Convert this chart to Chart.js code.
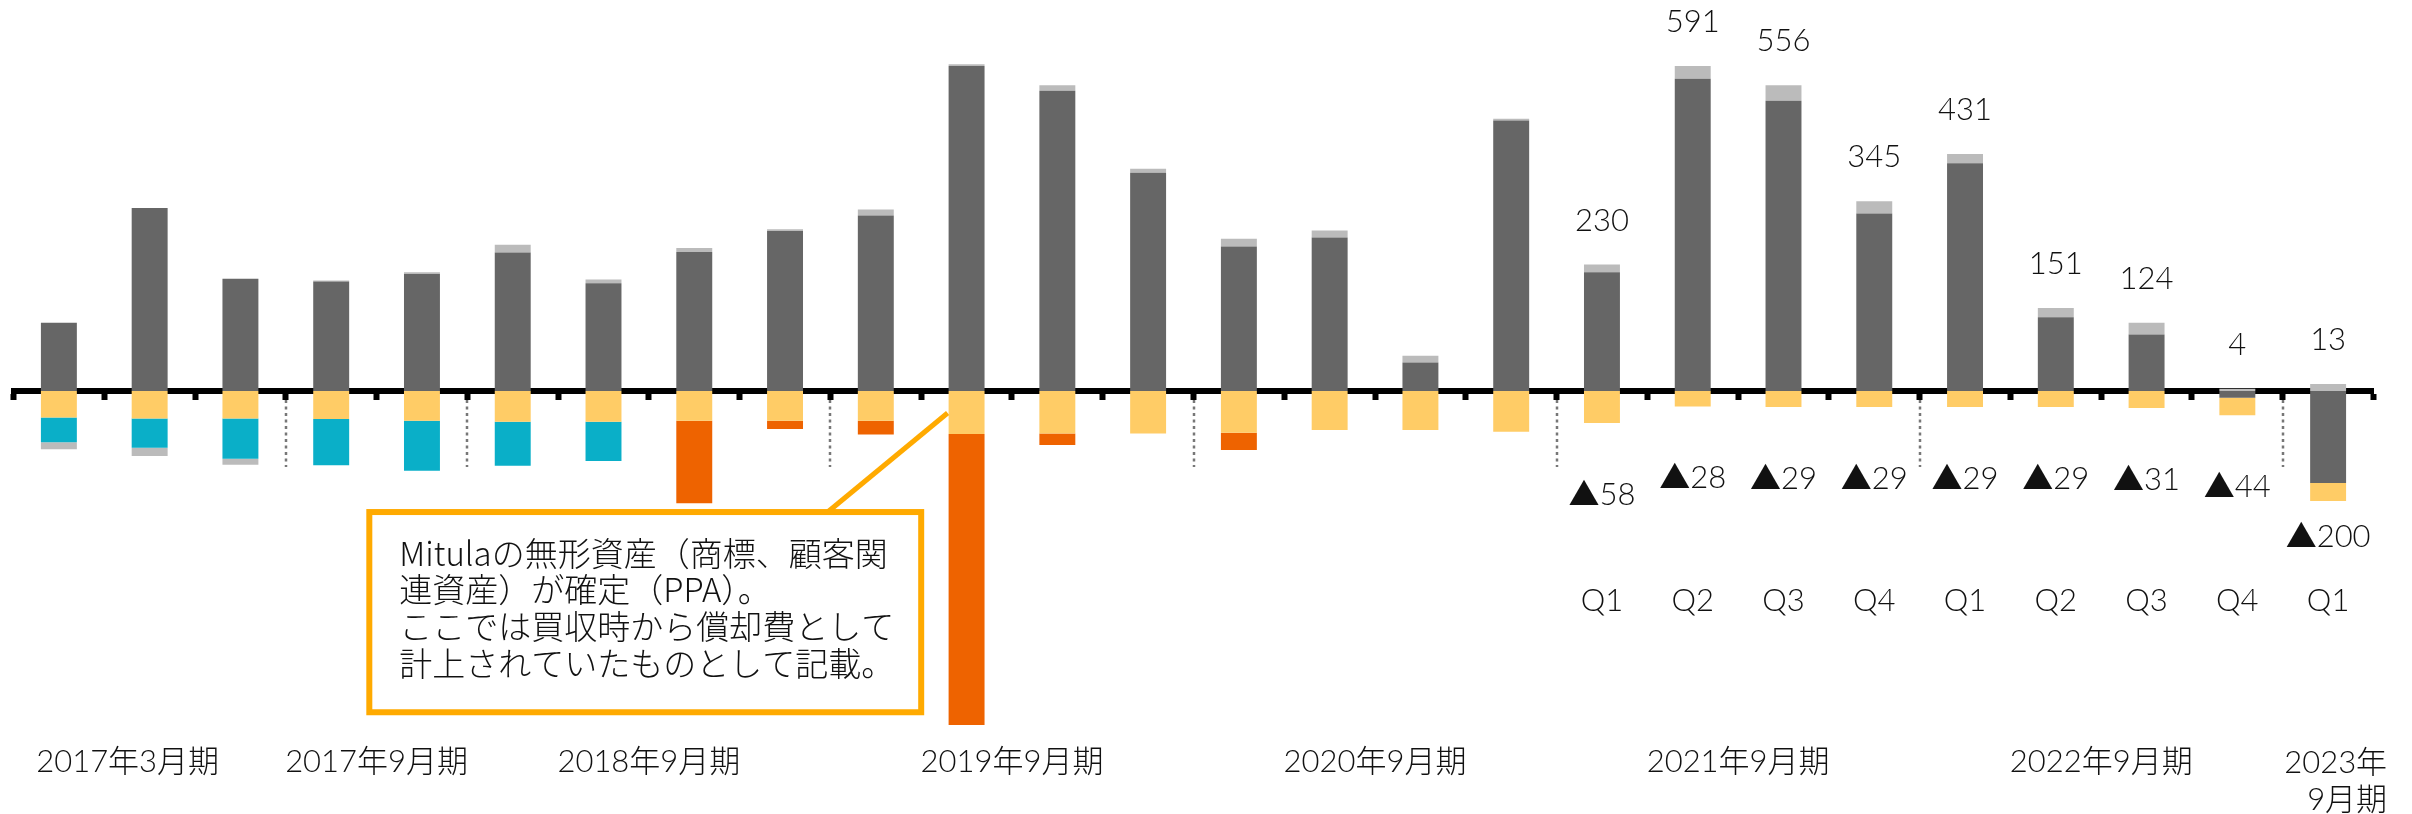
<!DOCTYPE html>
<html lang="ja">
<head>
<meta charset="utf-8">
<script src="https://cdn.jsdelivr.net/npm/chart.js@4.4.1/dist/chart.umd.min.js"></script>
<style>
html, body { margin: 0; padding: 0; background: #fff; }
#wrap { width: 2412px; height: 814px; position: relative; }
</style>
</head>
<body>
<div id="wrap"><canvas id="chart"></canvas></div>
<script>
// quarters, oldest first
const categories = [
    '2017/3 Q2', '2017/3 Q3', '2017/3 Q4',
    '2017/9 Q1', '2017/9 Q2',
    '2018/9 Q1', '2018/9 Q2', '2018/9 Q3', '2018/9 Q4',
    '2019/9 Q1', '2019/9 Q2', '2019/9 Q3', '2019/9 Q4',
    '2020/9 Q1', '2020/9 Q2', '2020/9 Q3', '2020/9 Q4',
    '2021/9 Q1', '2021/9 Q2', '2021/9 Q3', '2021/9 Q4',
    '2022/9 Q1', '2022/9 Q2', '2022/9 Q3', '2022/9 Q4',
    '2023/9 Q1'
];

const profit     = [124, 333, 204, 199, 213, 252, 196, 253, 291, 319, 591, 546, 397, 263, 279, 52, 492, 216, 568, 528, 323, 414, 134, 103, -12, -167];
const otherPlus  = [0, 0, 0, 2, 3, 14, 7, 7, 3, 11, 3, 10, 7, 14, 13, 12, 3, 14, 23, 28, 22, 17, 17, 21, 4, 13];
const amort      = [-48, -50, -50, -51, -54, -56, -56, -54, -54, -54, -78, -77, -77, -76, -71, -71, -74, -58, -28, -29, -29, -29, -29, -31, -32, -33];
const oldAmort   = [-45, -53, -73, -84, -91, -80, -71, 0, 0, 0, 0, 0, 0, 0, 0, 0, 0, 0, 0, 0, 0, 0, 0, 0, 0, 0];
const mitula     = [0, 0, 0, 0, 0, 0, 0, -150, -15, -25, -529, -21, 0, -31, 0, 0, 0, 0, 0, 0, 0, 0, 0, 0, 0, 0];
const otherMinus = [-13, -15, -11, 0, 0, 0, 0, 0, 0, 0, 0, 0, 0, 0, 0, 0, 0, 0, 0, 0, 0, 0, 0, 0, 0, 0];

const topLabels    = ['', '', '', '', '', '', '', '', '', '', '', '', '', '', '', '', '', '230', '591', '556', '345', '431', '151', '124', '4', '13'];
const bottomLabels = ['', '', '', '', '', '', '', '', '', '', '', '', '', '', '', '', '', '▲58', '▲28', '▲29', '▲29', '▲29', '▲29', '▲31', '▲44', '▲200'];
const quarterLabels = ['', '', '', '', '', '', '', '', '', '', '', '', '', '', '', '', '', 'Q1', 'Q2', 'Q3', 'Q4', 'Q1', 'Q2', 'Q3', 'Q4', 'Q1'];

const periodLabels = ['2017年3月期', '2017年9月期', '2018年9月期', '2019年9月期', '2020年9月期', '2021年9月期', '2022年9月期', '2023年\n9月期'];
const periodSizes  = [3, 2, 4, 4, 4, 4, 4, 1];

const noteLines = [
    'Mitulaの無形資産（商標、顧客関',
    '連資産）が確定（PPA）。',
    'ここでは買収時から償却費として',
    '計上されていたものとして記載。'
];

const FONT = 'Lato, "Noto Sans CJK JP", sans-serif';
const JFONT = '"Noto Sans CJK JP", sans-serif';

const overlay = {
    id: 'overlay',
    afterDraw(chart) {
        const { ctx, scales: { x, y } } = chart;
        const zero = y.getPixelForValue(0);
        const step = x.getPixelForValue(1) - x.getPixelForValue(0);
        ctx.save();

        // dotted separators between fiscal periods
        ctx.strokeStyle = '#777';
        ctx.lineWidth = 2.5;
        ctx.setLineDash([3, 3.5]);
        let idx = 0;
        periodSizes.slice(0, -1).forEach(n => {
            idx += n;
            const px = Math.round(x.getPixelForValue(idx) - step / 2);
            ctx.beginPath();
            ctx.moveTo(px, zero + 9);
            ctx.lineTo(px, zero + 76);
            ctx.stroke();
        });
        ctx.setLineDash([]);

        ctx.fillStyle = '#111';
        ctx.textAlign = 'center';
        ctx.textBaseline = 'middle';
        ctx.font = '300 31px ' + FONT;

        categories.forEach((_, i) => {
            const cx = x.getPixelForValue(i);
            let pos = 0, neg = 0;
            [profit, otherPlus, amort, oldAmort, mitula, otherMinus].forEach(s => {
                if (s[i] > 0) pos += s[i]; else neg += s[i];
            });
            if (topLabels[i]) {
                ctx.fillText(topLabels[i], cx, y.getPixelForValue(pos) - 44);
            }
            if (bottomLabels[i]) {
                const b = y.getPixelForValue(neg);
                let ly = b + 72;
                if (ly > 545) ly = b + 36;
                ctx.fillText(bottomLabels[i], cx, ly);
            }
            if (quarterLabels[i]) {
                ctx.fillText(quarterLabels[i], cx, 601);
            }
        });

        // fiscal period labels
        ctx.font = '300 31px ' + FONT;
        let start = 0;
        periodLabels.forEach((lab, g) => {
            const n = periodSizes[g];
            let cx = (x.getPixelForValue(start) + x.getPixelForValue(start + n - 1)) / 2;
            if (g === 0) cx -= 22;
            const lines = lab.split('\n');
            if (lines.length > 1) {
                ctx.textAlign = 'right';
                lines.forEach((t, k) => ctx.fillText(t, cx + 59, 763 + k * 37));
                ctx.textAlign = 'center';
            } else {
                ctx.fillText(lab, cx, 762);
            }
            start += n;
        });

        // note box
        const bx1 = x.getPixelForValue(3.42), bx2 = x.getPixelForValue(9.5);
        const by1 = y.getPixelForValue(-220), by2 = y.getPixelForValue(-584);

        // leader line to the 2019 Q2 bar
        const bar = chart.getDatasetMeta(2).data[10];
        const lx = x.getPixelForValue(8.47);
        ctx.strokeStyle = '#FFAA00';
        ctx.lineWidth = 5;
        ctx.beginPath();
        ctx.moveTo(lx, by1);
        ctx.lineTo(bar.x - bar.width / 2 - 1, y.getPixelForValue(-40));
        ctx.stroke();

        ctx.fillStyle = '#fff';
        ctx.fillRect(bx1, by1, bx2 - bx1, by2 - by1);
        ctx.lineWidth = 6;
        ctx.strokeRect(bx1, by1, bx2 - bx1, by2 - by1);

        ctx.fillStyle = '#111';
        ctx.textAlign = 'left';
        ctx.font = '300 33px ' + JFONT;
        noteLines.forEach((t, k) => ctx.fillText(t, bx1 + 30, by1 + 41 + k * 36.7));

        ctx.restore();
    }
};

const ctx = document.getElementById('chart').getContext('2d');

new Chart(ctx, {
    type: 'bar',
    data: {
        labels: categories,
        datasets: [
            { label: '営業利益', data: profit, backgroundColor: '#666666' },
            { label: 'その他(+)', data: otherPlus, backgroundColor: '#BBBBBB' },
            { label: '償却費', data: amort, backgroundColor: '#FFCC66' },
            { label: '償却費(旧)', data: oldAmort, backgroundColor: '#0AAFC8' },
            { label: 'Mitula償却費', data: mitula, backgroundColor: '#EE6300' },
            { label: 'その他(-)', data: otherMinus, backgroundColor: '#BBBBBB' }
        ]
    },
    options: {
        responsive: true,
        maintainAspectRatio: false,
        animation: false,
        devicePixelRatio: 1,
        layout: { padding: { left: 13.5, right: 38.5, top: 0, bottom: 0 } },
        datasets: {
            bar: { categoryPercentage: 1, barPercentage: 0.396, borderWidth: 0 }
        },
        plugins: {
            legend: { display: false },
            tooltip: { enabled: false }
        },
        scales: {
            x: {
                stacked: true,
                position: { y: 0 },
                z: 1,
                grid: {
                    offset: true,
                    drawOnChartArea: false,
                    drawTicks: true,
                    tickLength: 6,
                    tickWidth: 6,
                    tickColor: '#000'
                },
                border: { display: true, color: '#000', width: 6 },
                ticks: { display: false }
            },
            y: {
                stacked: true,
                display: false,
                min: -769,
                max: 711
            }
        }
    },
    plugins: [overlay]
});
</script>
</body>
</html>
